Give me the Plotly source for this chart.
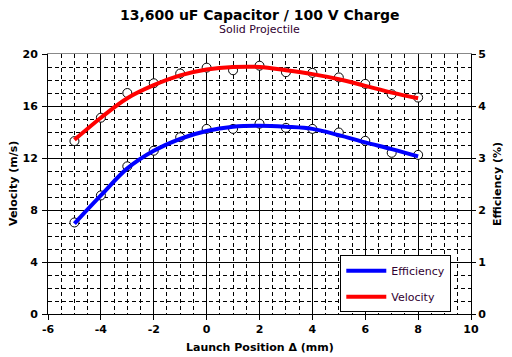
import plotly.graph_objects as go

position = [-5, -4, -3, -2, -1, 0, 1, 2, 3, 4, 5, 6, 7, 8]
velocity = [13.3, 15.1, 17.0, 17.75, 18.5, 18.95, 18.75, 19.1, 18.6, 18.55, 18.2, 17.7, 16.9, 16.65]
efficiency = [1.76, 2.28, 2.84, 3.14, 3.40, 3.56, 3.56, 3.66, 3.58, 3.56, 3.49, 3.33, 3.10, 3.06]
velocity_fit = [13.4, 15.1, 16.6, 17.6, 18.35, 18.8, 19.0, 19.0, 18.75, 18.45, 18.06, 17.55, 17.03, 16.6]
efficiency_fit = [1.74, 2.28, 2.80, 3.14, 3.37, 3.52, 3.60, 3.62, 3.60, 3.56, 3.44, 3.30, 3.17, 3.03]
x_ticks = [-6, -4, -2, 0, 2, 4, 6, 8, 10]
x_tick_labels = ["-6", "-4", "-2", "0", "2", "4", "6", "8", "10"]

FONT = "DejaVu Sans"
DASH = "4px,3px"

fig = go.Figure()
fig.add_trace(go.Scatter(x=position, y=velocity, mode="markers", showlegend=False,
                         marker=dict(symbol="circle", size=9, color="white",
                                     line=dict(color="black", width=1))))
fig.add_trace(go.Scatter(x=position, y=efficiency, mode="markers", showlegend=False, yaxis="y2",
                         marker=dict(symbol="circle", size=9, color="white",
                                     line=dict(color="black", width=1))))
fig.add_trace(go.Scatter(x=position, y=efficiency_fit, mode="lines", name="Efficiency", yaxis="y2",
                         legendgroup="e", line=dict(color="#0000ff", width=4, shape="spline")))
fig.add_trace(go.Scatter(x=position, y=velocity_fit, mode="lines", name="Velocity",
                         legendgroup="v", line=dict(color="#ff0000", width=4, shape="spline")))

axis_title_font = dict(family=FONT, size=11, color="black", weight="bold")

fig.update_layout(
    width=504, height=349,
    margin=dict(l=40, r=41, t=46, b=43, autoexpand=False),
    paper_bgcolor="white", plot_bgcolor="white",
    font=dict(family=FONT, color="black", size=11),
    xaxis=dict(range=[-6, 10], tickvals=x_ticks, ticktext=x_tick_labels,
               showgrid=True, gridcolor="black", gridwidth=1, automargin=False,
               showline=True, linecolor="black", linewidth=1, ticks="outside", ticklen=5,
               tickcolor="black", zeroline=False,
               tickfont=dict(family=FONT, size=11, color="black", weight="bold"),
               minor=dict(dtick=0.5, tick0=-6, showgrid=True, gridcolor="black", griddash=DASH,
                          gridwidth=1, ticks="")),
    xaxis2=dict(range=[-6, 10], overlaying="x", side="top", showline=True, linecolor="#888888",
                showgrid=False, zeroline=False, showticklabels=False, ticks=""),
    yaxis=dict(range=[0, 20], dtick=4, showgrid=True, gridcolor="black", gridwidth=1,
               showline=True, linecolor="black", linewidth=1, ticks="outside", ticklen=5,
               tickcolor="black", zeroline=False, automargin=False, ticklabelstandoff=2,
               tickfont=dict(family=FONT, size=11, color="black", weight="bold"),
               minor=dict(dtick=1, showgrid=True, gridcolor="black", griddash=DASH,
                          gridwidth=1, ticks="")),
    yaxis2=dict(range=[0, 5], dtick=1, overlaying="y", side="right", showgrid=False,
                showline=True, linecolor="black", linewidth=1, ticks="outside", ticklen=4,
                tickcolor="black", zeroline=False, automargin=False,
                tickfont=dict(family=FONT, size=11, color="black", weight="bold")),
    legend=dict(x=0.691, y=0.226, xanchor="left", yanchor="top", bgcolor="white",
                bordercolor="black", borderwidth=1, tracegroupgap=7,
                font=dict(family=FONT, size=11, color="#300030"), itemwidth=40),
    annotations=[
        dict(text="<b>13,600 uF Capacitor / 100 V Charge</b>", x=0.5, y=1, xref="paper", yref="paper",
             xanchor="center", yanchor="bottom", yshift=29, showarrow=False,
             font=dict(family=FONT, size=14, color="black")),
        dict(text="Solid Projectile", x=0.5, y=1, xref="paper", yref="paper",
             xanchor="center", yanchor="bottom", yshift=16, showarrow=False,
             font=dict(family=FONT, size=11, color="#300030")),
        dict(text="Launch Position Δ (mm)", x=0.5, y=0, xref="paper", yref="paper",
             xanchor="center", yanchor="middle", yshift=-33, showarrow=False,
             font=axis_title_font),
        dict(text="Velocity (m/s)", x=0, y=0.5, xref="paper", yref="paper", textangle=-90,
             xanchor="center", yanchor="middle", xshift=-35, showarrow=False,
             font=axis_title_font),
        dict(text="Efficiency (%)", x=1, y=0.5, xref="paper", yref="paper", textangle=-90,
             xanchor="center", yanchor="middle", xshift=26, showarrow=False,
             font=axis_title_font),
    ],
)
# invisible trace carrying the gray top axis line
fig.add_trace(go.Scatter(x=[-6], y=[0], xaxis="x2", mode="markers", showlegend=False,
                         marker=dict(opacity=0), hoverinfo="skip"))

fig.write_html("out.html")
